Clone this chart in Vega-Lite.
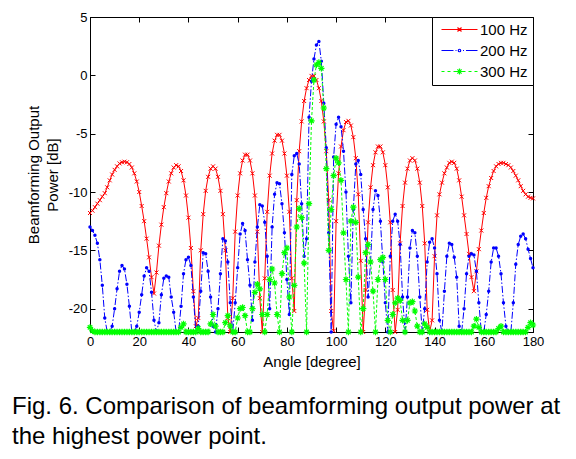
{
  "$schema": "https://vega.github.io/schema/vega-lite/v6.json",
  "width": 443,
  "height": 315,
  "autosize": {"type": "none"},
  "padding": {"left": 90, "top": 17, "right": 43, "bottom": 127},
  "background": "white",
  "config": {
    "font": "Liberation Sans",
    "view": {"stroke": "black", "strokeWidth": 1}
  },
  "title": {
    "text": ["Fig. 6. Comparison of beamforming output power at", "the highest power point."],
    "orient": "bottom",
    "anchor": "start",
    "frame": "group",
    "dx": -78,
    "offset": 26,
    "font": "Liberation Sans",
    "fontSize": 24,
    "fontWeight": "normal",
    "lineHeight": 30,
    "color": "black"
  },
  "data": {
    "values": [
      {"a":0,"r":-11.8,"b":-13.0,"g":-21.6},
      {"a":1,"r":-11.6,"b":-13.3,"g":-21.9},
      {"a":2,"r":-11.3,"b":-13.7,"g":-22},
      {"a":3,"r":-11.0,"b":-14.4,"g":-22},
      {"a":4,"r":-10.7,"b":-15.8,"g":-22},
      {"a":5,"r":-10.4,"b":-18.0,"g":-22},
      {"a":6,"r":-10.1,"b":-20.8,"g":-22},
      {"a":7,"r":-9.6,"b":-22,"g":-22},
      {"a":8,"r":-9.0,"b":-22,"g":-22},
      {"a":9,"r":-8.5,"b":-21.5,"g":-22},
      {"a":10,"r":-8.1,"b":-20.0,"g":-22},
      {"a":11,"r":-7.8,"b":-18.3,"g":-22},
      {"a":12,"r":-7.55,"b":-16.8,"g":-22},
      {"a":13,"r":-7.45,"b":-16.3,"g":-22},
      {"a":14,"r":-7.4,"b":-16.6,"g":-22},
      {"a":15,"r":-7.45,"b":-17.9,"g":-22},
      {"a":16,"r":-7.6,"b":-19.8,"g":-22},
      {"a":17,"r":-7.9,"b":-22,"g":-22},
      {"a":18,"r":-8.4,"b":-22,"g":-22},
      {"a":19,"r":-9.1,"b":-21.5,"g":-22},
      {"a":20,"r":-10.0,"b":-20.3,"g":-22},
      {"a":21,"r":-11.2,"b":-18.8,"g":-22},
      {"a":22,"r":-12.5,"b":-17.2,"g":-22},
      {"a":23,"r":-14.0,"b":-16.5,"g":-22},
      {"a":24,"r":-15.6,"b":-16.8,"g":-22},
      {"a":25,"r":-17.3,"b":-18.6,"g":-22},
      {"a":26,"r":-18.7,"b":-21.0,"g":-22},
      {"a":27,"r":-16.9,"b":-22,"g":-22},
      {"a":28,"r":-14.6,"b":-21.2,"g":-22},
      {"a":29,"r":-12.8,"b":-18.8,"g":-22},
      {"a":30,"r":-11.3,"b":-17.4,"g":-22},
      {"a":31,"r":-10.1,"b":-17.2,"g":-22},
      {"a":32,"r":-9.1,"b":-17.3,"g":-22},
      {"a":33,"r":-8.4,"b":-19.0,"g":-22},
      {"a":34,"r":-7.9,"b":-20.3,"g":-22},
      {"a":35,"r":-7.7,"b":-22,"g":-22},
      {"a":36,"r":-7.8,"b":-22,"g":-22},
      {"a":37,"r":-8.2,"b":-19.8,"g":-21.6},
      {"a":38,"r":-9.0,"b":-17.0,"g":-21.3},
      {"a":39,"r":-10.3,"b":-15.8,"g":-22},
      {"a":40,"r":-12.2,"b":-15.6,"g":-22},
      {"a":41,"r":-14.8,"b":-16.3,"g":-22},
      {"a":42,"r":-18.5,"b":-19.0,"g":-22},
      {"a":43,"r":-21.5,"b":-22,"g":-22},
      {"a":44,"r":-20.8,"b":-21.5,"g":-21.7},
      {"a":45,"r":-15.0,"b":-18.5,"g":-22},
      {"a":46,"r":-11.9,"b":-15.2,"g":-22},
      {"a":47,"r":-9.9,"b":-15.3,"g":-22},
      {"a":48,"r":-8.7,"b":-16.8,"g":-22},
      {"a":49,"r":-8.0,"b":-19.0,"g":-21.3},
      {"a":50,"r":-7.8,"b":-21.5,"g":-20.5},
      {"a":51,"r":-8.0,"b":-22,"g":-21.5},
      {"a":52,"r":-8.7,"b":-20.0,"g":-22},
      {"a":53,"r":-9.9,"b":-17.0,"g":-22},
      {"a":54,"r":-11.9,"b":-14.0,"g":-22},
      {"a":55,"r":-15.0,"b":-14.2,"g":-21.2},
      {"a":56,"r":-20.8,"b":-16.0,"g":-20.6},
      {"a":57,"r":-22,"b":-19.5,"g":-21.5},
      {"a":58,"r":-19.1,"b":-22,"g":-22},
      {"a":59,"r":-13.4,"b":-19.5,"g":-22},
      {"a":60,"r":-10.3,"b":-16.5,"g":-20.8},
      {"a":61,"r":-8.4,"b":-13.6,"g":-20.0},
      {"a":62,"r":-7.3,"b":-12.7,"g":-19.9},
      {"a":63,"r":-6.8,"b":-13.3,"g":-20.6},
      {"a":64,"r":-6.8,"b":-15.8,"g":-22},
      {"a":65,"r":-7.3,"b":-18.0,"g":-22},
      {"a":66,"r":-8.4,"b":-21.0,"g":-20.0},
      {"a":67,"r":-10.3,"b":-16.0,"g":-18.6},
      {"a":68,"r":-13.4,"b":-13.0,"g":-17.9},
      {"a":69,"r":-19.1,"b":-11.1,"g":-18.3},
      {"a":70,"r":-22,"b":-11.2,"g":-20.5},
      {"a":71,"r":-17.4,"b":-12.6,"g":-22},
      {"a":72,"r":-11.7,"b":-15.5,"g":-20.5},
      {"a":73,"r":-8.6,"b":-20.0,"g":-17.5},
      {"a":74,"r":-6.7,"b":-13.0,"g":-16.6},
      {"a":75,"r":-5.6,"b":-10.2,"g":-17.8},
      {"a":76,"r":-5.1,"b":-9.2,"g":-20.5},
      {"a":77,"r":-5.1,"b":-9.3,"g":-22},
      {"a":78,"r":-5.6,"b":-11.0,"g":-17.0},
      {"a":79,"r":-6.7,"b":-13.5,"g":-15.2},
      {"a":80,"r":-8.6,"b":-17.5,"g":-14.8},
      {"a":81,"r":-11.7,"b":-20.5,"g":-19.0},
      {"a":82,"r":-17.4,"b":-8.5,"g":-22},
      {"a":83,"r":-20.2,"b":-6.9,"g":-18.0},
      {"a":84,"r":-10.7,"b":-6.7,"g":-13.0},
      {"a":85,"r":-6.5,"b":-7.6,"g":-11.4},
      {"a":86,"r":-3.95,"b":-11.0,"g":-12.2},
      {"a":87,"r":-2.2,"b":-15.5,"g":-16.1},
      {"a":88,"r":-1.1,"b":-14.0,"g":-22},
      {"a":89,"r":-0.4,"b":-3.6,"g":-11.0},
      {"a":90,"r":-0.05,"b":-0.5,"g":-3.9},
      {"a":91,"r":-0.05,"b":1.4,"g":-0.4},
      {"a":92,"r":-0.4,"b":2.6,"g":0.9},
      {"a":93,"r":-1.1,"b":2.9,"g":1.1},
      {"a":94,"r":-2.2,"b":1.2,"g":0.6},
      {"a":95,"r":-3.95,"b":-2.4,"g":-2.8},
      {"a":96,"r":-6.5,"b":-6.2,"g":-8.0},
      {"a":97,"r":-10.7,"b":-13.5,"g":-15.0},
      {"a":98,"r":-20.2,"b":-22,"g":-11.5},
      {"a":99,"r":-21.9,"b":-7.0,"g":-8.6},
      {"a":100,"r":-12.5,"b":-4.2,"g":-7.1},
      {"a":101,"r":-8.4,"b":-3.6,"g":-7.5},
      {"a":102,"r":-6.1,"b":-4.4,"g":-9.0},
      {"a":103,"r":-4.7,"b":-6.5,"g":-13.5},
      {"a":104,"r":-4.0,"b":-10.0,"g":-17.5},
      {"a":105,"r":-3.9,"b":-15.5,"g":-22},
      {"a":106,"r":-4.3,"b":-19.5,"g":-12.5},
      {"a":107,"r":-5.3,"b":-11.5,"g":-11.3},
      {"a":108,"r":-7.1,"b":-7.6,"g":-12.6},
      {"a":109,"r":-10.2,"b":-7.3,"g":-17.3},
      {"a":110,"r":-15.9,"b":-8.5,"g":-22},
      {"a":111,"r":-22,"b":-11.5,"g":-20.0},
      {"a":112,"r":-18.4,"b":-14.0,"g":-15.2},
      {"a":113,"r":-12.6,"b":-19.0,"g":-14.5},
      {"a":114,"r":-9.6,"b":-16.0,"g":-16.0},
      {"a":115,"r":-7.7,"b":-11.5,"g":-18.5},
      {"a":116,"r":-6.6,"b":-9.9,"g":-22},
      {"a":117,"r":-6.1,"b":-10.3,"g":-17.5},
      {"a":118,"r":-6.1,"b":-12.5,"g":-15.8},
      {"a":119,"r":-6.6,"b":-16.0,"g":-15.6},
      {"a":120,"r":-7.7,"b":-19.5,"g":-17.5},
      {"a":121,"r":-9.6,"b":-22,"g":-21.0},
      {"a":122,"r":-12.6,"b":-15.5,"g":-22},
      {"a":123,"r":-18.4,"b":-12.5,"g":-20.5},
      {"a":124,"r":-22,"b":-11.9,"g":-19.5},
      {"a":125,"r":-20.1,"b":-12.5,"g":-19.1},
      {"a":126,"r":-14.4,"b":-14.5,"g":-19.3},
      {"a":127,"r":-11.2,"b":-19.0,"g":-21.0},
      {"a":128,"r":-9.2,"b":-22,"g":-22},
      {"a":129,"r":-8.0,"b":-19.0,"g":-21.0},
      {"a":130,"r":-7.3,"b":-14.8,"g":-19.5},
      {"a":131,"r":-7.1,"b":-13.3,"g":-19.4},
      {"a":132,"r":-7.3,"b":-13.5,"g":-20.2},
      {"a":133,"r":-8.0,"b":-15.5,"g":-21.5},
      {"a":134,"r":-9.2,"b":-19.0,"g":-22},
      {"a":135,"r":-11.2,"b":-22,"g":-22},
      {"a":136,"r":-14.4,"b":-20.0,"g":-21.3},
      {"a":137,"r":-20.1,"b":-16.0,"g":-21.6},
      {"a":138,"r":-22,"b":-14.3,"g":-22},
      {"a":139,"r":-21.0,"b":-14.0,"g":-22},
      {"a":140,"r":-15.5,"b":-14.8,"g":-22},
      {"a":141,"r":-12.0,"b":-17.0,"g":-22},
      {"a":142,"r":-10.2,"b":-21.0,"g":-22},
      {"a":143,"r":-9.2,"b":-22,"g":-22},
      {"a":144,"r":-8.4,"b":-18.5,"g":-22},
      {"a":145,"r":-7.9,"b":-15.5,"g":-22},
      {"a":146,"r":-7.5,"b":-14.4,"g":-22},
      {"a":147,"r":-7.4,"b":-14.5,"g":-22},
      {"a":148,"r":-7.5,"b":-15.6,"g":-22},
      {"a":149,"r":-8.0,"b":-17.3,"g":-22},
      {"a":150,"r":-9.0,"b":-21.5,"g":-22},
      {"a":151,"r":-10.4,"b":-22,"g":-22},
      {"a":152,"r":-12.0,"b":-20.0,"g":-22},
      {"a":153,"r":-13.6,"b":-17.0,"g":-22},
      {"a":154,"r":-15.3,"b":-15.5,"g":-22},
      {"a":155,"r":-17.3,"b":-15.3,"g":-22},
      {"a":156,"r":-18.5,"b":-15.4,"g":-21.5},
      {"a":157,"r":-16.8,"b":-16.8,"g":-20.9},
      {"a":158,"r":-14.9,"b":-19.5,"g":-21.6},
      {"a":159,"r":-13.3,"b":-22,"g":-22},
      {"a":160,"r":-11.8,"b":-22,"g":-22},
      {"a":161,"r":-10.5,"b":-20.5,"g":-22},
      {"a":162,"r":-9.5,"b":-18.5,"g":-22},
      {"a":163,"r":-8.8,"b":-16.0,"g":-22},
      {"a":164,"r":-8.2,"b":-14.8,"g":-22},
      {"a":165,"r":-7.8,"b":-14.8,"g":-22},
      {"a":166,"r":-7.6,"b":-15.5,"g":-21.7},
      {"a":167,"r":-7.5,"b":-17.0,"g":-21.5},
      {"a":168,"r":-7.5,"b":-19.5,"g":-22},
      {"a":169,"r":-7.6,"b":-21.5,"g":-22},
      {"a":170,"r":-7.7,"b":-22,"g":-22},
      {"a":171,"r":-7.9,"b":-22,"g":-22},
      {"a":172,"r":-8.2,"b":-19.5,"g":-22},
      {"a":173,"r":-8.6,"b":-16.2,"g":-22},
      {"a":174,"r":-9.0,"b":-14.5,"g":-22},
      {"a":175,"r":-9.5,"b":-13.8,"g":-22},
      {"a":176,"r":-9.9,"b":-13.6,"g":-22},
      {"a":177,"r":-10.2,"b":-14.0,"g":-22},
      {"a":178,"r":-10.4,"b":-14.9,"g":-21.6},
      {"a":179,"r":-10.5,"b":-15.7,"g":-21.2},
      {"a":180,"r":-10.55,"b":-16.5,"g":-21.4}
    ]
  },
  "resolve": {"axis": {"x": "independent", "y": "independent"}},
  "layer": [
    {
      "mark": {"type": "line", "color": "#ff0000", "strokeWidth": 1},
      "encoding": {
        "x": {"field": "a", "type": "quantitative", "scale": {"domain": [0, 180], "nice": false},
          "axis": {"orient": "bottom", "values": [0,20,40,60,80,100,120,140,160,180], "tickSize": -5, "labelPadding": 8,
            "labelFontSize": 13, "labelColor": "black", "labelFlush": false, "domainColor": "black", "tickColor": "black", "grid": false,
            "title": "Angle [degree]", "titleFontSize": 15, "titleFontWeight": "normal", "titleColor": "black", "titlePadding": 6}},
        "y": {"field": "r", "type": "quantitative", "scale": {"domain": [-22, 5], "nice": false, "zero": false},
          "axis": {"orient": "left", "values": [-20,-15,-10,-5,0,5], "tickSize": -5, "labelPadding": 8, "labelExpr": "'' + datum.value",
            "labelFontSize": 13, "labelColor": "black", "labelFlush": false, "domainColor": "black", "tickColor": "black", "grid": false,
            "title": ["Beamforming Output", "Power [dB]"], "titleFontSize": 15, "titleFontWeight": "normal", "titleColor": "black", "titlePadding": 8, "titleLineHeight": 19}}
      }
    },
    {
      "mark": {"type": "point", "shape": "M-1,-1L1,1M-1,1L1,-1", "size": 16, "color": "#ff0000", "filled": false, "strokeWidth": 1, "opacity": 1},
      "encoding": {
        "x": {"field": "a", "type": "quantitative",
          "axis": {"orient": "top", "values": [0,20,40,60,80,100,120,140,160,180], "tickSize": -5, "labels": false, "title": null, "domainColor": "black", "tickColor": "black", "grid": false}},
        "y": {"field": "r", "type": "quantitative",
          "axis": {"orient": "right", "values": [-20,-15,-10,-5,0,5], "tickSize": -5, "labels": false, "title": null, "domainColor": "black", "tickColor": "black", "grid": false}}
      }
    },
    {
      "mark": {"type": "line", "color": "#0000ff", "strokeWidth": 1, "strokeDash": [7, 2, 1.5, 2]},
      "encoding": {
        "x": {"field": "a", "type": "quantitative", "axis": null},
        "y": {"field": "b", "type": "quantitative", "axis": null}
      }
    },
    {
      "mark": {"type": "point", "shape": "circle", "size": 12, "color": "#0000ff", "filled": true, "opacity": 1},
      "encoding": {
        "x": {"field": "a", "type": "quantitative", "axis": null},
        "y": {"field": "b", "type": "quantitative", "axis": null}
      }
    },
    {
      "mark": {"type": "line", "color": "#00ff00", "strokeWidth": 1, "strokeDash": [3, 2]},
      "encoding": {
        "x": {"field": "a", "type": "quantitative", "axis": null},
        "y": {"field": "g", "type": "quantitative", "axis": null}
      }
    },
    {
      "mark": {"type": "point", "shape": "M-1,0L1,0M0,-1L0,1M-0.7,-0.7L0.7,0.7M-0.7,0.7L0.7,-0.7", "size": 40, "color": "#00ff00", "filled": false, "strokeWidth": 1.2, "opacity": 1},
      "encoding": {
        "x": {"field": "a", "type": "quantitative", "axis": null},
        "y": {"field": "g", "type": "quantitative", "axis": null}
      }
    },
    {
      "transform": [{"fold": ["r", "b", "g"], "as": ["s", "v"]}, {"filter": "false"}],
      "mark": {"type": "point", "filled": false, "strokeWidth": 1, "size": 100, "opacity": 1},
      "encoding": {
        "color": {"field": "s", "type": "nominal",
          "scale": {"domain": ["r", "b", "g"], "range": ["red", "blue", "lime"]},
          "legend": {
            "orient": "top-right", "offset": 0, "title": null, "padding": 5,
            "strokeColor": "black", "fillColor": "white",
            "labelFontSize": 15, "labelColor": "black", "labelFont": "Liberation Sans",
            "labelExpr": "datum.label == 'r' ? '100 Hz' : datum.label == 'b' ? '200 Hz' : '300 Hz'",
            "symbolOffset": 0, "labelOffset": 28, "rowPadding": 5, "symbolStrokeWidth": 1.2, "symbolOpacity": 1
          }},
        "shape": {"field": "s", "type": "nominal",
          "scale": {"domain": ["r", "b", "g"],
            "range": [
              "M-0.6,0L6.6,0M2.6,-0.4L3.4,0.4M2.6,0.4L3.4,-0.4",
              "M-0.6,0L1.8,0M2.2,0L2.4,0M3.25,0A0.25,0.25 0 1,1 2.75,0A0.25,0.25 0 1,1 3.25,0ZM3.7,0L3.9,0M4.3,0L6.6,0",
              "M-0.6,0L0,0M0.6,0L1.2,0M1.8,0L2.4,0M3.6,0L4.2,0M4.8,0L5.4,0M6.0,0L6.6,0M2.4,0L3.6,0M3.0,-0.6L3.0,0.6M2.58,-0.42L3.42,0.42M2.58,0.42L3.42,-0.42"
            ]},
          "legend": {
            "orient": "top-right", "offset": 0, "title": null, "padding": 5,
            "strokeColor": "black", "fillColor": "white",
            "labelFontSize": 15, "labelColor": "black", "labelFont": "Liberation Sans",
            "labelExpr": "datum.label == 'r' ? '100 Hz' : datum.label == 'b' ? '200 Hz' : '300 Hz'",
            "symbolOffset": 0, "labelOffset": 28, "rowPadding": 5, "symbolStrokeWidth": 1.2, "symbolOpacity": 1
          }
        }
      }
    }
  ]
}
